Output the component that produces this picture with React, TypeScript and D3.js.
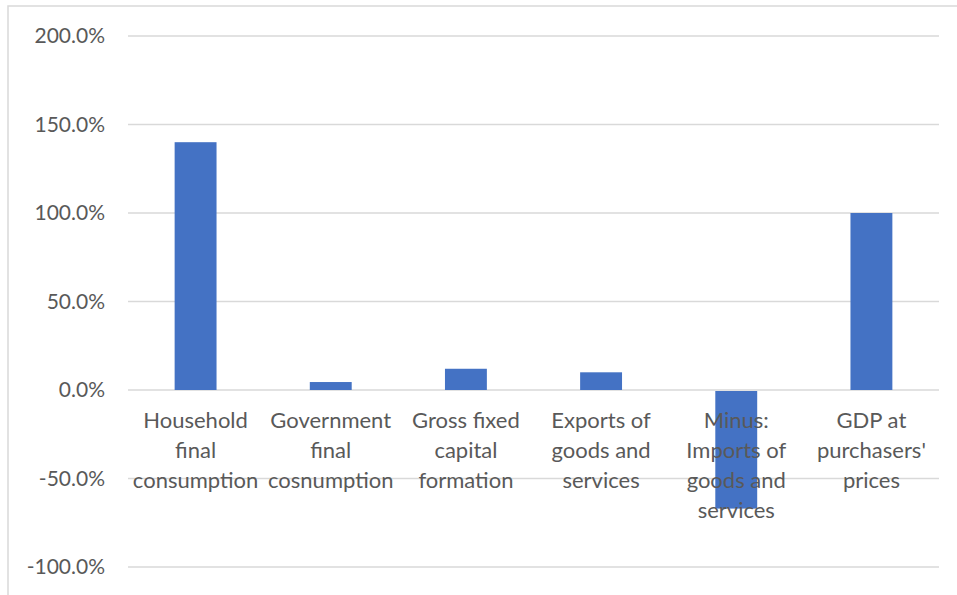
import React from 'react';
import * as d3 from 'd3';

// category labels, already wrapped the way the source chart wraps them
const categories: string[][] = [
  ['Household', 'final', 'consumption'],
  ['Government', 'final', 'cosnumption'],
  ['Gross fixed', 'capital', 'formation'],
  ['Exports of', 'goods and', 'services'],
  ['Minus:', 'Imports of', 'goods and', 'services'],
  ['GDP at', "purchasers'", 'prices'],
];
const shares: number[] = [140, 4.5, 12, 10, -67, 100];
const yTicks: number[] = [-100, -50, 0, 50, 100, 150, 200];

const W = 957;
const H = 595;
const FONT = 'Lato, "Open Sans", sans-serif';
const TEXT = '#595959';
const GRID = '#d9d9d9';
const BAR = '#4472C4';

const App: React.FC = () => {
  const left = 128;
  const right = 939;
  const top = 36;
  const bottom = 567;

  const x = d3
    .scaleBand<number>()
    .domain(d3.range(categories.length))
    .range([left, right])
    .padding(0);
  const y = d3.scaleLinear().domain([-100, 200]).range([bottom, top]);

  const barW = x.bandwidth() * 0.31;
  // plain hyphen for negatives, like the source
  const fmt = (v: number) => v.toFixed(1) + '%';

  return (
    <div style={{ position: 'fixed', left: 0, top: 0 }}>
      <svg width={W} height={H} style={{ display: 'block', background: '#fff' }}>
        {/* chart area border */}
        <rect x={8} y={6} width={W + 20} height={H + 20} fill="none" stroke={GRID} strokeWidth={1.5} />

        {/* gridlines */}
        {yTicks.map(t => (
          <line key={t} x1={left} x2={right} y1={y(t)} y2={y(t)} stroke={GRID} strokeWidth={1.5} />
        ))}

        {/* y tick labels */}
        {yTicks.map(t => (
          <text
            key={'l' + t}
            x={105}
            y={y(t)}
            dy="0.35em"
            textAnchor="end"
            fontFamily={FONT}
            fontSize={21}
            fill={TEXT}
          >
            {fmt(t)}
          </text>
        ))}

        {/* bars */}
        {shares.map((v, i) => {
          const cx = (x(i) as number) + x.bandwidth() / 2;
          const y0 = y(0);
          const y1 = y(v);
          return (
            <rect
              key={i}
              x={cx - barW / 2}
              y={Math.min(y0, y1) + (v < 0 ? 1 : 0)}
              width={barW}
              height={Math.abs(y1 - y0) - (v < 0 ? 1 : 0)}
              fill={BAR}
            />
          );
        })}

        {/* category labels */}
        {categories.map((lines, i) => {
          const cx = (x(i) as number) + x.bandwidth() / 2;
          return (
            <text
              key={'c' + i}
              textAnchor="middle"
              fontFamily={FONT}
              fontSize={22}
              fill={TEXT}
            >
              {lines.map((s, j) => (
                <tspan key={j} x={cx} y={428 + j * 30}>
                  {s}
                </tspan>
              ))}
            </text>
          );
        })}
      </svg>
    </div>
  );
};

export default App;
